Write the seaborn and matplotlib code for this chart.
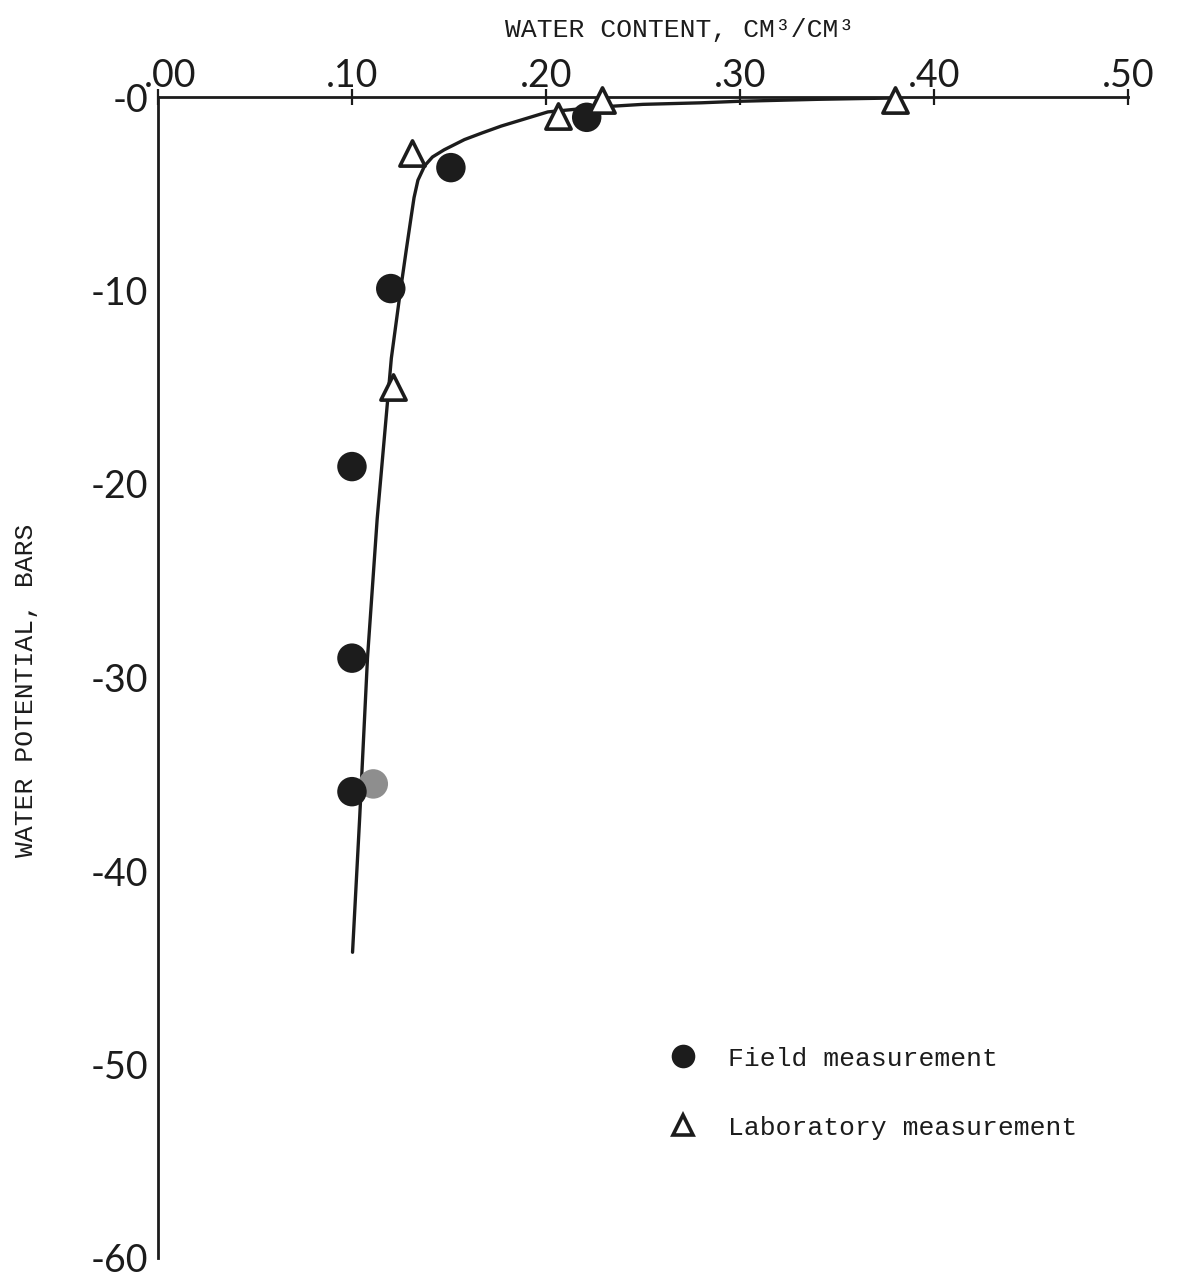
import pandas as pd
import matplotlib.pyplot as plt
from matplotlib.lines import Line2D
from matplotlib.transforms import ScaledTranslation
import seaborn as sns

# field measurements (filled circles)
field_x = [0.100, 0.100, 0.100, 0.111, 0.120, 0.151, 0.221]
field_y = [-19.1, -29.0, -35.9, -35.5, -9.9, -3.65, -1.05]
field_faded = [False, False, False, True, False, False, False]

# laboratory measurements (open triangles)
lab_x = [0.121, 0.131, 0.206, 0.229, 0.380]
lab_y = [-15.0, -2.9, -1.0, -0.15, -0.15]

# hand drawn retention curve
curve_x = [0.1003, 0.104, 0.108, 0.113, 0.1203, 0.125, 0.128, 0.1305, 0.132,
           0.134, 0.1375, 0.1415, 0.1475, 0.158, 0.167, 0.177, 0.201, 0.227,
           0.250, 0.280, 0.300, 0.340, 0.380]
curve_y = [-44.2, -37.2, -29.0, -21.8, -13.5, -10.0, -7.9, -6.2, -5.2,
           -4.3, -3.55, -3.1, -2.73, -2.2, -1.86, -1.5, -0.77, -0.52,
           -0.38, -0.30, -0.22, -0.12, -0.05]

x_ticks = [0.0, 0.1, 0.2, 0.3, 0.4, 0.5]
x_labels = [".00", ".10", ".20", ".30", ".40", ".50"]
y_ticks = [0, -10, -20, -30, -40, -50, -60]
y_labels = ["-0", "-10", "-20", "-30", "-40", "-50", "-60"]

sns.set_style("white")
ink = "#1c1c1c"
mono = ["Liberation Mono", "DejaVu Sans Mono"]

fig = plt.figure(figsize=(11.78, 12.77), dpi=100)
ax = fig.add_axes([0.1341, 1 - 1258 / 1277, 0.8234, 1161 / 1277])

curve = pd.DataFrame({"x": curve_x, "y": curve_y})
sns.lineplot(data=curve, x="x", y="y", sort=False, estimator=None,
             color=ink, linewidth=2.4, ax=ax)

field = pd.DataFrame({"x": field_x, "y": field_y, "faded": field_faded})
dark = field[~field["faded"]]
pale = field[field["faded"]]
sns.scatterplot(data=pale, x="x", y="y", s=450, color="#8e8e8e",
                edgecolor="none", ax=ax, clip_on=False, zorder=3)
sns.scatterplot(data=dark, x="x", y="y", s=450, color=ink,
                edgecolor="none", ax=ax, clip_on=False, zorder=4)

lab = pd.DataFrame({"x": lab_x, "y": lab_y})
sns.scatterplot(data=lab, x="x", y="y", s=330, marker="^", color="white",
                edgecolor=ink, linewidth=2.6, ax=ax, clip_on=False, zorder=5)

ax.set_xlim(0, 0.5)
ax.set_ylim(-60, 0)

for side in ["right", "bottom"]:
    ax.spines[side].set_visible(False)
for side in ["top", "left"]:
    ax.spines[side].set_linewidth(2)
    ax.spines[side].set_color(ink)

ax.xaxis.tick_top()
ax.set_xticks(x_ticks)
ax.set_xticklabels(x_labels)
ax.set_yticks(y_ticks)
ax.set_yticklabels(y_labels)
ax.tick_params(axis="both", direction="inout", length=12, width=1.6,
               colors=ink, labelsize=27)
ax.tick_params(axis="x", pad=-4)
ax.tick_params(axis="y", pad=1)
for lbl in ax.get_xticklabels() + ax.get_yticklabels():
    lbl.set_family(["Lato", "DejaVu Sans"])

# the ".00" label sits a little right of the corner, as in the original
first = ax.xaxis.get_major_ticks()[0].label2
first.set_transform(first.get_transform()
                    + ScaledTranslation(9 / 72, 0, fig.dpi_scale_trans))

ax.xaxis.set_label_position("top")
ax.set_xlabel("WATER CONTENT, CM³/CM³", family=mono, fontsize=19, color=ink)
ax.xaxis.set_label_coords(0.538, 1.052)
ax.set_ylabel("WATER POTENTIAL, BARS", family=mono, fontsize=19, color=ink)
ax.yaxis.set_label_coords(-0.124, 0.489)

handles = [
    Line2D([], [], linestyle="none", marker="o", markersize=17,
           markerfacecolor=ink, markeredgecolor="none"),
    Line2D([], [], linestyle="none", marker="^", markersize=15,
           markerfacecolor="white", markeredgecolor=ink, markeredgewidth=2.6),
]
ax.legend(handles, ["Field measurement", "Laboratory measurement"],
          loc="upper left", bbox_to_anchor=(0.525, 0.182), frameon=False,
          prop={"family": mono, "size": 19}, labelcolor=ink,
          handlelength=1.2, handletextpad=1.1, labelspacing=1.7,
          borderpad=0, borderaxespad=0)

fig.savefig("out.png", dpi=100)
